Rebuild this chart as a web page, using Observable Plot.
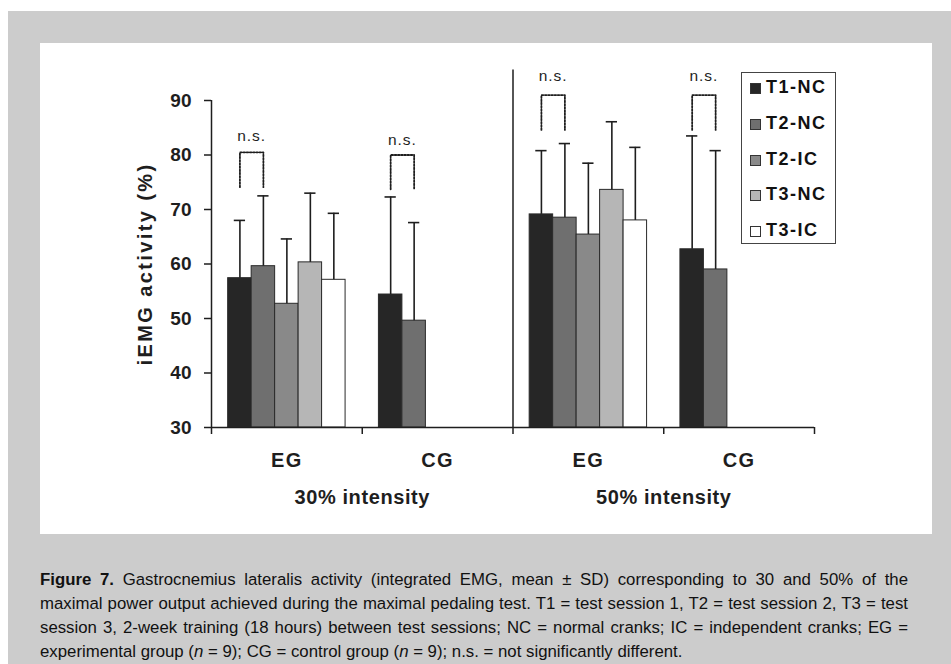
<!DOCTYPE html>
<html><head><meta charset="utf-8">
<script src="https://cdn.jsdelivr.net/npm/d3@7"></script>
<script src="https://cdn.jsdelivr.net/npm/@observablehq/plot@0.6"></script>
<style>
html,body{margin:0;padding:0;}
body{background:#fff;width:951px;height:664px;position:relative;overflow:hidden;font-family:"Liberation Sans",Arial,sans-serif;color:#111;}
#bg{position:absolute;left:8px;top:11px;width:943px;height:653px;background:#cccccc;}
#panel{position:absolute;left:40px;top:43px;width:892px;height:491px;background:#fff;}
#chart{position:absolute;left:0;top:0;}
#legend{position:absolute;left:701px;top:29px;width:95px;height:172px;border:1px solid #444;background:#fff;box-sizing:border-box;}
.lrow{position:absolute;left:8px;height:20px;line-height:20px;font-size:18px;font-weight:bold;letter-spacing:1.5px;white-space:nowrap;}
.sw{display:inline-block;width:11px;height:11px;border:1px solid #333;margin-right:5px;vertical-align:-1px;box-sizing:border-box;}
#caption{position:absolute;left:40px;top:568px;width:868px;font-size:16.8px;line-height:24px;color:#111;}
#caption div{white-space:nowrap;}
#caption div.j{text-align:justify;text-align-last:justify;white-space:normal;}
</style></head>
<body>
<div id="bg"></div>
<div id="panel"><div id="chart"></div><div id="legend"></div></div>
<div id="caption">
<div class="j"><b>Figure 7.</b> Gastrocnemius lateralis activity (integrated EMG, mean ± SD) corresponding to 30 and 50% of the</div>
<div class="j">maximal power output achieved during the maximal pedaling test. T1 = test session 1, T2 = test session 2, T3 = test</div>
<div class="j">session 3, 2-week training (18 hours) between test sessions; NC = normal cranks; IC = independent cranks; EG =</div>
<div>experimental group (<i>n</i> = 9); CG = control group (<i>n</i> = 9); n.s. = not significantly different.</div>
</div>
<script>
// ---- data ----
const series = ["T1-NC", "T2-NC", "T2-IC", "T3-NC", "T3-IC"];
const seriesColors = ["#262626", "#6f6f6f", "#898989", "#b6b6b6", "#ffffff"];
const groupLabels = ["EG", "CG", "EG", "CG"];
const intensityLabels = ["30% intensity", "50% intensity"];
const yTicks = [30, 40, 50, 60, 70, 80, 90];

const eg30Mean = [57.4, 59.6, 52.7, 60.3, 57.1];
const eg30SD   = [10.6, 12.9, 11.9, 12.7, 12.2];
const cg30Mean = [54.4, 49.6];
const cg30SD   = [17.9, 18.0];
const eg50Mean = [69.1, 68.5, 65.4, 73.6, 68.0];
const eg50SD   = [11.7, 13.6, 13.1, 12.5, 13.4];
const cg50Mean = [62.7, 59.0];
const cg50SD   = [20.8, 21.8];

// n.s. brackets (between T1-NC and T2-NC of each group)
const bracketTop    = [80.5, 80.0, 91.0, 91.0];
const bracketBottom = [74.1, 73.7, 84.6, 84.6];
const nsLabelY      = [83.4, 82.8, 94.5, 94.5];
const dividerTop = 95.6;

// ---- layout helpers ----
const means = [eg30Mean, cg30Mean, eg50Mean, cg50Mean];
const sds = [eg30SD, cg30SD, eg50SD, cg50SD];
const slot = 1 / (series.length + 1.42);
const offset = 0.71 * slot;
const capHalf = 0.24 * slot;

const rows = [];
means.forEach((m, gi) => m.forEach((v, si) => {
  const x1 = gi + offset + si * slot;
  rows.push({gi, si, series: series[si], mean: v, sd: sds[gi][si], x1, x2: x1 + slot, xc: x1 + slot / 2, top: v + sds[gi][si]});
}));
const center = (gi, si) => gi + offset + (si + 0.5) * slot;
const bracketPts = [];
const bracketRows = [];
bracketTop.forEach((t, gi) => {
  const a = center(gi, 0), b = center(gi, 1);
  bracketPts.push({k: gi, x: a, y: bracketBottom[gi]}, {k: gi, x: a, y: t}, {k: gi, x: b, y: t}, {k: gi, x: b, y: bracketBottom[gi]});
  bracketRows.push({x: (a + b) / 2, y: nsLabelY[gi]});
});
const groupRows = groupLabels.map((l, i) => ({x: i + 0.5, label: l}));
const intensityRows = intensityLabels.map((l, i) => ({x: 2 * i + 1, label: l}));

const ink = "#1e1e1e";
const chart = Plot.plot({
  width: 892, height: 491,
  marginLeft: 171, marginRight: 118, marginTop: 57, marginBottom: 107,
  x: {domain: [0, 4], axis: null},
  y: {domain: [30, 90], axis: null},
  color: {domain: series, range: seriesColors},
  style: {fontFamily: "'Liberation Sans', Arial, sans-serif", background: "transparent", color: ink, overflow: "visible"},
  marks: [
    Plot.rectY(rows, {x1: "x1", x2: "x2", y1: 30, y2: "mean", fill: "series", stroke: "#2a2a2a", strokeWidth: 1}),
    Plot.ruleX(rows, {x: "xc", y1: "mean", y2: "top", stroke: ink, strokeWidth: 1.6}),
    Plot.ruleY(rows, {y: "top", x1: d => d.xc - capHalf, x2: d => d.xc + capHalf, stroke: ink, strokeWidth: 1.6}),
    Plot.ruleX([0], {y1: 30, y2: 90, stroke: ink, strokeWidth: 1.5}),
    Plot.ruleY([30], {x1: 0, x2: 4, stroke: ink, strokeWidth: 1.5}),
    Plot.ruleX([2], {y1: 30, y2: dividerTop, stroke: ink, strokeWidth: 1.5}),
    Plot.axisY({ticks: yTicks, tickSize: 7, tickPadding: 13, fontSize: 19, fontWeight: "bold", stroke: ink, strokeWidth: 1.5}),
    Plot.axisX({ticks: [0, 1, 2, 3, 4], tickSize: 7, tickFormat: () => "", stroke: ink, strokeWidth: 1.5}),
    Plot.line(bracketPts, {x: "x", y: "y", z: "k", stroke: ink, strokeWidth: 1.8, strokeDasharray: "1.6,1.6"}),
    Plot.text(bracketRows, {x: "x", y: "y", text: () => "n.s.", fontSize: 15.5}),
    Plot.text(groupRows, {x: "x", y: 30, text: "label", dy: 33, fontSize: 20, fontWeight: "bold"}),
    Plot.text(intensityRows, {x: "x", y: 30, text: "label", dy: 70, fontSize: 20, fontWeight: "bold"}),
    Plot.text(["iEMG activity (%)"], {frameAnchor: "left", textAnchor: "middle", rotate: -90, dx: -66, fontSize: 20, fontWeight: "bold"})
  ]
});
document.getElementById("chart").appendChild(chart);
chart.querySelectorAll("text").forEach(t => {
  if (t.textContent === "iEMG activity (%)") t.style.letterSpacing = "2.4px";
  if (t.textContent === "30% intensity" || t.textContent === "50% intensity") t.style.letterSpacing = "0.6px";
  if (t.textContent === "EG" || t.textContent === "CG") t.style.letterSpacing = "1.5px";
  if (t.textContent === "n.s.") t.style.letterSpacing = "1px";
});

// legend
const legend = document.getElementById("legend");
series.forEach((s, i) => {
  const r = document.createElement("div");
  r.className = "lrow";
  r.style.top = (4 + i * 35.8) + "px";
  r.innerHTML = `<span class="sw" style="background:${seriesColors[i]}"></span>${s}`;
  legend.appendChild(r);
});
</script>
</body></html>
